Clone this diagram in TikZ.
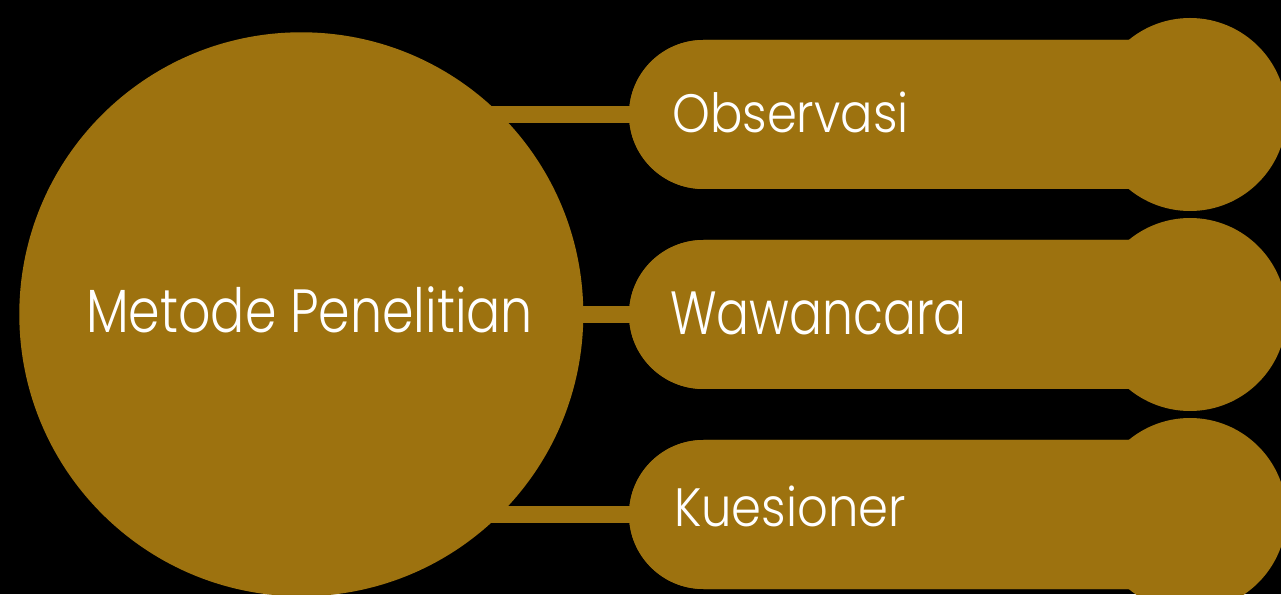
\documentclass[tikz,border=0pt]{standalone}
\usepackage{fontspec}
\setmainfont{Poppins Light}[FakeStretch=0.8]
\newfontfamily\fontA{Poppins Light}[FakeStretch=0.83]
\newfontfamily\fontB{Poppins Light}[FakeStretch=0.8]
\newfontfamily\fontC{Poppins Light}[FakeStretch=0.89]
\usetikzlibrary{shapes.misc}
\definecolor{gold}{RGB}{157,114,15}
\tikzset{
  x=1pt,y=1pt,
  bigdisc/.style={circle,fill=gold,draw=none,inner sep=0pt,minimum size=564pt},
  pill/.style={rounded rectangle,rounded rectangle right arc=none,fill=gold,draw=none,inner sep=0pt,minimum width=561pt,minimum height=149pt},
  capdisc/.style={circle,fill=gold,draw=none,inner sep=0pt,minimum size=193pt},
  bar/.style={draw=gold,line width=17pt},
  lbl/.style={anchor=base west,inner sep=0pt,text=white},
  biglbl/.style={lbl,font=\fontA\fontsize{61}{70}\selectfont},
  midlbl/.style={lbl,font=\fontB\fontsize{61}{70}\selectfont},
  smalllbl/.style={lbl,font=\fontC\fontsize{54}{62}\selectfont}
}
\begin{document}
\begin{tikzpicture}
\useasboundingbox (0,0) rectangle (1281,594);
\fill[black] (0,0) rectangle (1281,594);
\coordinate (mc) at (301.3,279.7);
\node[pill] (p1) at (909.5,479.5) {};
\node[pill] (p2) at (909.5,279.5) {};
\node[pill] (p3) at (909.5,79.5) {};
\draw[bar] (mc |- p1.west) -- (p1.center);
\draw[bar] (mc |- p2.west) -- (p2.center);
\draw[bar] (mc |- p3.west) -- (p3.center);
\node[bigdisc] (main) at (mc) {};
\node[pill] at (p1) {};
\node[pill] at (p2) {};
\node[pill] at (p3) {};
\node[capdisc] (c1) at (1190,479.5) {};
\node[capdisc] (c2) at (1190,279.5) {};
\node[capdisc] (c3) at (1190,79.5) {};
\node[biglbl] (tm) at (86,261) {Metode Penelitian};
\node[smalllbl] (t1) at (672,461.3) {Observasi};
\node[midlbl] (t2) at (670,259) {Wawancara};
\node[smalllbl] (t3) at (674,67.3) {Kuesioner};
\end{tikzpicture}
\end{document}
